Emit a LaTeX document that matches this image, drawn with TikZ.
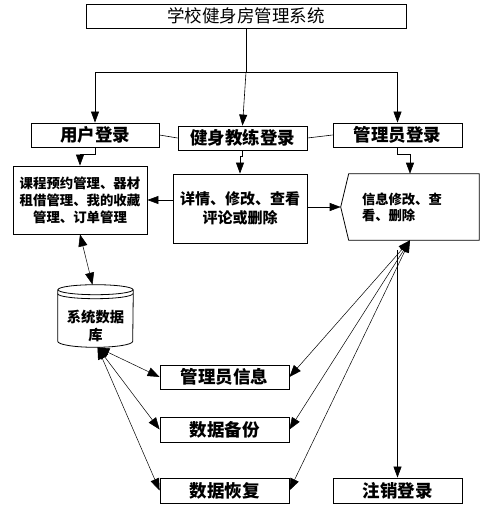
\documentclass[tikz,border=0pt]{standalone}
\usepackage{fontspec}
\setmainfont{Noto Sans CJK SC}
\usetikzlibrary{arrows.meta, positioning, calc}

\begin{document}
\begin{tikzpicture}[x=1pt, y=-1pt, line width=0.6pt,
    box/.style={draw, line width=0.8pt, inner sep=0pt, align=center},
    big/.style={font=\bfseries\fontsize{17.5}{20}\selectfont},
    arr/.style={-{Triangle[length=11pt, width=8pt]}},
    dbl/.style={{Triangle[length=12pt, width=9pt]}-{Triangle[length=12pt, width=9pt]}, line width=0.5pt}]
    \useasboundingbox (0,0) rectangle (482,509);

    % top and login row
    \node[box, minimum width=320pt, minimum height=24pt, font=\fontsize{17.5}{20}\selectfont] (title) at (246,16) {学校健身房管理系统};
    \node[box, big, minimum width=128pt, minimum height=24pt] (usr) at (95,135) {用户登录};
    \node[box, big, minimum width=129pt, minimum height=24pt] (coach) at (242.5,138) {健身教练登录};
    \node[box, big, minimum width=129pt, minimum height=24pt] (admin) at (397.5,135) {管理员登录};

    \coordinate (split) at (title.south |- 0,72);
    \draw (title.south) -- (split);
    \draw[arr] (split) -| (usr.north);
    \draw[arr] (split) -| (admin.north);
    \draw[arr] (split) -- (coach.north);
    \draw (usr.east) -- (coach.west);
    \draw (coach.east) -- (admin.west);

    % function boxes
    \node[box, minimum width=134pt, minimum height=68pt, font=\bfseries\fontsize{13.4}{17}\selectfont] (ufunc) at (80,200)
        {课程预约管理、器材\\租借管理、我的收藏\\管理、订单管理};
    \node[box, minimum width=134pt, minimum height=69pt, font=\bfseries\fontsize{15}{19}\selectfont] (cfunc) at (240,208.5)
        {详情、修改、查看\\评论或删除};
    \node[inner sep=0pt, minimum width=130pt, minimum height=66pt, text width=104pt, align=left,
        font=\bfseries\fontsize{13.3}{16}\selectfont] (afunc) at (414,207) {信息修改、查\\看、删除};
    \coordinate (atip) at ($(afunc.west)+(-8,0)$);
    \draw[line width=0.8pt] (afunc.north west) -- (afunc.north east) -- (afunc.south east) -- (afunc.south west) -- (atip) -- cycle;

    \draw[arr] (usr.south) -- ++(0,7) -| (ufunc.north);
    \draw[arr] (coach.south) -- ++(0,6) -| (cfunc.north);
    \draw[arr] (admin.south) -- ++(0,7) -| ([xshift=-4pt]afunc.north);
    \draw[arr] (cfunc.west |- ufunc.east) -- (ufunc.east);
    \draw[arr] (cfunc.east |- atip) -- (atip);

    % database
    \node[inner sep=0pt, minimum width=75pt, minimum height=62pt] (db) at (95.5,316) {};
    \draw[line width=0.8pt] ([yshift=-5pt]db.north) ellipse [x radius=37.5pt, y radius=5pt];
    \draw[line width=0.8pt] ([yshift=-9pt]db.north west) arc [start angle=180, end angle=360, x radius=37.5pt, y radius=5pt];
    \draw[line width=0.8pt] ([yshift=-5pt]db.north west) -- ([yshift=6pt]db.south west)
        arc [start angle=180, end angle=360, x radius=37.5pt, y radius=6pt] -- ([yshift=-5pt]db.north east);
    \node[align=center, inner sep=0pt, font=\bfseries\fontsize{14.3}{18}\selectfont] (dbtext) at ([yshift=-10pt]db.center) {系统数据\\库};

    % admin functions
    \node[box, big, minimum width=129pt, minimum height=24pt] (ainfo) at (224.5,377) {管理员信息};
    \node[box, big, minimum width=129pt, minimum height=25pt] (backup) at (224.5,429.5) {数据备份};
    \node[box, big, minimum width=129pt, minimum height=25pt] (restore) at (224.5,490.5) {数据恢复};
    \node[box, big, minimum width=129pt, minimum height=25pt] (logout) at (397.5,490.5) {注销登录};

    \draw[dbl] (ufunc.south) -- ([xshift=-3pt]db.north);
    \coordinate (dbhub) at ([xshift=2pt]db.south);
    \coordinate (ahub) at ([xshift=-4pt]afunc.south);
    \foreach \n in {ainfo, backup, restore} {
        \draw[dbl] (dbhub) -- (\n.west);
        \draw[dbl] (ahub) -- (\n.east);
    }
    \draw[arr] ($(afunc.south -| logout.north)+(0,10)$) -- (logout.north);
\end{tikzpicture}
\end{document}
